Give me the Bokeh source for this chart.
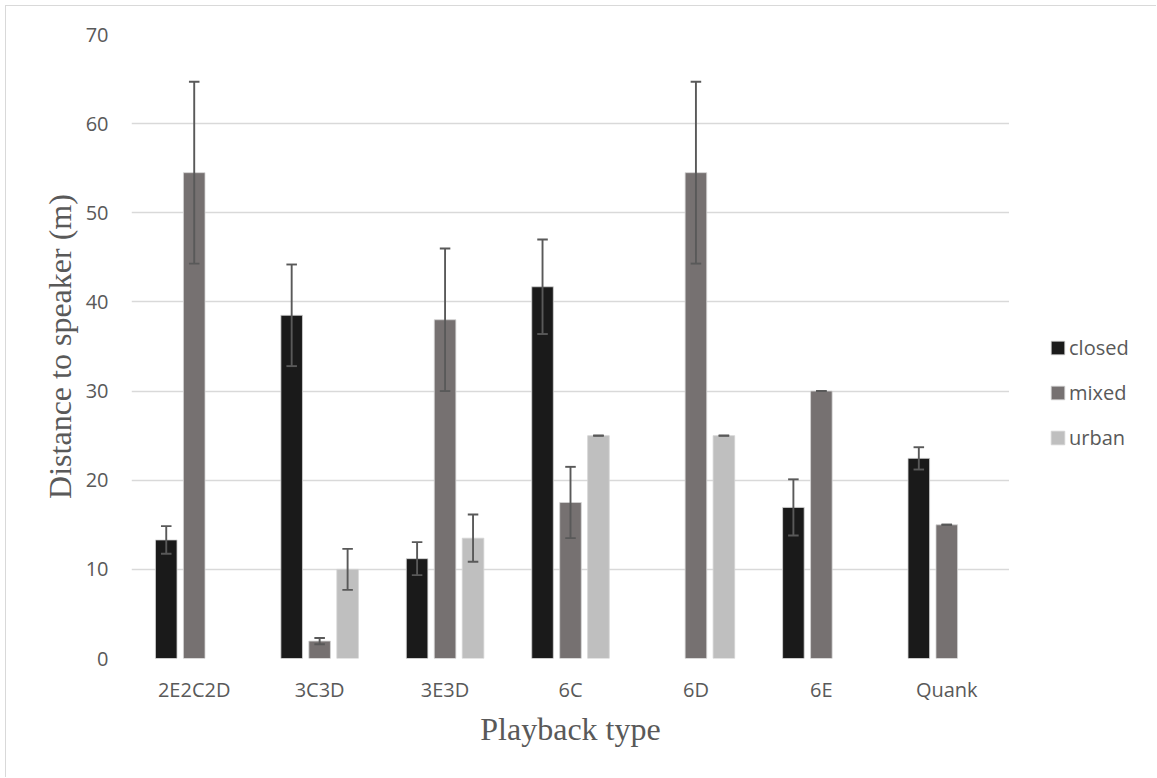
import math
from bokeh.plotting import figure
from bokeh.layouts import row
from bokeh.models import Range1d, FixedTicker, Legend, LegendItem
from bokeh.embed import file_html
from bokeh.resources import INLINE

# ---- data ----
categories = ["2E2C2D", "3C3D", "3E3D", "6C", "6D", "6E", "Quank"]
series_names = ["closed", "mixed", "urban"]
closed = [13.3, 38.5, 11.2, 41.7, None, 16.95, 22.45]
closed_err = [1.55, 5.7, 1.85, 5.3, None, 3.15, 1.25]
mixed = [54.5, 1.95, 38.0, 17.5, 54.5, 30.0, 15.0]
mixed_err = [10.2, 0.35, 8.0, 4.0, 10.2, 0.0, 0.0]
urban = [None, 10.0, 13.5, 25.0, 25.0, None, None]
urban_err = [None, 2.3, 2.65, 0.0, 0.0, None, None]
y_ticks = [0, 10, 20, 30, 40, 50, 60, 70]

colors = ["#1a1a1a", "#767171", "#bfbfbf"]
offsets = [-0.223, 0.0, 0.223]
bar_w = 0.172
cap_half = 0.042
txt = "#595959"
err_w = 1.9

p = figure(width=1003, height=771, output_backend="svg", toolbar_location=None,
           x_range=Range1d(0, len(categories)), y_range=Range1d(0, 70),
           min_border_left=125, min_border_right=0, min_border_top=28,
           min_border_bottom=119)
p.outline_line_color = None
p.background_fill_color = "white"
p.border_fill_color = "white"

# axes
p.xaxis.ticker = FixedTicker(ticks=[i + 0.5 for i in range(len(categories))])
p.xaxis.major_label_overrides = {i + 0.5: c for i, c in enumerate(categories)}
p.yaxis.ticker = FixedTicker(ticks=y_ticks)
for ax in (p.xaxis[0], p.yaxis[0]):
    ax.axis_line_color = None
    ax.major_tick_line_color = None
    ax.minor_tick_line_color = None
    ax.major_label_text_font = "Open Sans"
    ax.major_label_text_font_size = "20px"
    ax.major_label_text_color = txt
    ax.axis_label_text_font = "Liberation Serif"
    ax.axis_label_text_font_size = "32px"
    ax.axis_label_text_font_style = "normal"
    ax.axis_label_text_color = txt
p.xaxis.major_label_standoff = 11
p.yaxis.major_label_standoff = 17
p.xaxis.axis_label = "Playback type"
p.yaxis.axis_label = "Distance to speaker (m)"
p.xaxis.axis_label_standoff = 5
p.yaxis.axis_label_standoff = 5

p.xgrid.grid_line_color = None
p.ygrid.grid_line_color = "#d9d9d9"
p.ygrid.grid_line_width = 1.7

# legend holder (separate panel on the right); its x range is off the data so
# its proxy bars stay out of view and only the legend shows
lf = figure(width=147, height=771, output_backend="svg", toolbar_location=None,
            min_border_left=0, min_border_right=0, min_border_top=0, min_border_bottom=0,
            x_range=Range1d(-2, -1), y_range=Range1d(0, 70))
lf.axis.visible = False
lf.grid.visible = False
lf.outline_line_color = None

items = []
for name, vals, errs, col, off in zip(series_names, [closed, mixed, urban],
                                      [closed_err, mixed_err, urban_err], colors, offsets):
    xs, tops, lo, hi = [], [], [], []
    for i, (v, e) in enumerate(zip(vals, errs)):
        if v is None:
            continue
        xs.append(i + 0.5 + off)
        tops.append(v)
        lo.append(v - e)
        hi.append(v + e)
    p.vbar(x=xs, top=tops, bottom=0, width=bar_w, fill_color=col,
           line_color="#d4d4d4", line_width=0.8)
    p.segment(x0=xs, y0=lo, x1=xs, y1=hi, line_color=txt, line_width=err_w)
    p.segment(x0=[x - cap_half for x in xs], y0=hi, x1=[x + cap_half for x in xs], y1=hi,
              line_color=txt, line_width=err_w)
    p.segment(x0=[x - cap_half for x in xs], y0=lo, x1=[x + cap_half for x in xs], y1=lo,
              line_color=txt, line_width=err_w)
    lr = lf.vbar(x=xs, top=tops, bottom=0, width=bar_w, fill_color=col,
                 line_color="#d4d4d4", line_width=0.8)
    items.append(LegendItem(label=name, renderers=[lr]))

legend = Legend(items=items, location=(40, 207), orientation="vertical",
                glyph_width=17, glyph_height=17, label_standoff=3, spacing=18,
                padding=0, margin=0, border_line_color=None, background_fill_alpha=0,
                label_text_font="Open Sans", label_text_font_size="20px",
                label_text_color=txt)
lf.add_layout(legend, "center")

layout = row(p, lf)
layout.styles = {"border-left": "1px solid #d9d9d9", "border-top": "1px solid #d9d9d9",
                 "margin-left": "5px", "margin-top": "5px"}

open("out.html", "w").write(file_html(layout, INLINE))
